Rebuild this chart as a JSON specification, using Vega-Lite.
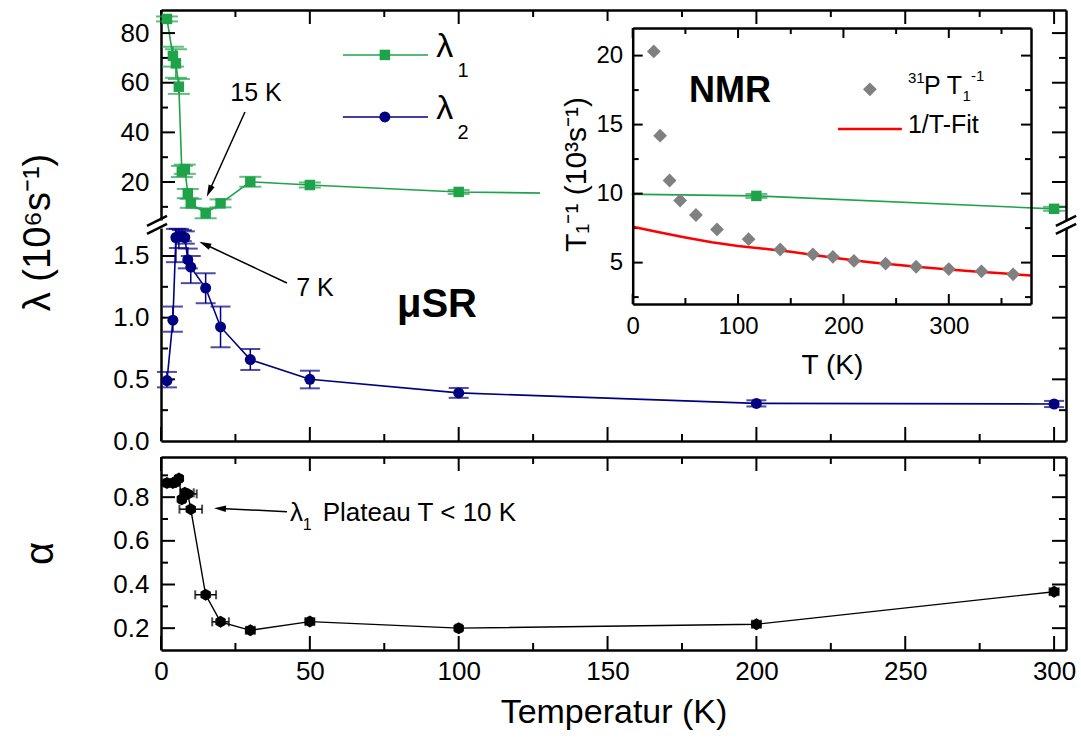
{
  "$schema": "https://vega.github.io/schema/vega-lite/v6.json",
  "width": 905,
  "height": 640,
  "autosize": {"type": "none"},
  "padding": {"left": 161, "top": 10, "right": 15, "bottom": 90},
  "background": "white",
  "config": {
    "view": {"stroke": null},
    "font": "Liberation Sans",
    "axis": {
      "grid": false,
      "ticks": false,
      "tickSize": 0,
      "domainColor": "black",
      "domainWidth": 2.5,
      "labelColor": "black",
      "labelFont": "Liberation Sans",
      "labelFontSize": 26,
      "labelFlush": false,
      "labelOverlap": false,
      "labelBound": false,
      "titleFont": "Liberation Sans",
      "titleFontWeight": "normal",
      "titleColor": "black"
    }
  },
  "datasets": {
    "lam1": [
      {"T": 2, "v": 85.7, "lo": 84.7, "hi": 86.7},
      {"T": 4, "v": 70.8, "lo": 66.5, "hi": 74.5},
      {"T": 5, "v": 67.8, "lo": 62, "hi": 73.5},
      {"T": 6, "v": 58.4, "lo": 55.5, "hi": 61.5},
      {"T": 7, "v": 24.2, "lo": 22, "hi": 26.5},
      {"T": 8, "v": 25.2, "lo": 23.3, "hi": 27},
      {"T": 9, "v": 15.4, "lo": 13.5, "hi": 17.2},
      {"T": 10, "v": 11.4, "lo": 9.6, "hi": 13.2},
      {"T": 15, "v": 7.4, "lo": 5.4, "hi": 9.4},
      {"T": 20, "v": 11.4, "lo": 9.8, "hi": 13},
      {"T": 30, "v": 20.1, "lo": 18.1, "hi": 22.1},
      {"T": 50, "v": 18.8, "lo": 17.8, "hi": 19.8},
      {"T": 100, "v": 16, "lo": 15.2, "hi": 16.8},
      {"T": 200, "v": 14.4, "lo": 13.6, "hi": 15.2},
      {"T": 300, "v": 9.2, "lo": 8.4, "hi": 10}
    ],
    "lam2": [
      {"T": 2, "v": 0.49, "lo": 0.435, "hi": 0.56},
      {"T": 4, "v": 0.98, "lo": 0.886, "hi": 1.09},
      {"T": 5, "v": 1.65, "lo": 1.45, "hi": 1.72},
      {"T": 6, "v": 1.66, "lo": 1.565, "hi": 1.72},
      {"T": 7, "v": 1.66, "lo": 1.62, "hi": 1.71},
      {"T": 8, "v": 1.65, "lo": 1.6, "hi": 1.7},
      {"T": 9, "v": 1.47, "lo": 1.4, "hi": 1.56},
      {"T": 10, "v": 1.41, "lo": 1.28, "hi": 1.5},
      {"T": 15, "v": 1.24, "lo": 1.117, "hi": 1.36},
      {"T": 20, "v": 0.925, "lo": 0.76, "hi": 1.09},
      {"T": 30, "v": 0.66, "lo": 0.576, "hi": 0.746},
      {"T": 50, "v": 0.5, "lo": 0.427, "hi": 0.57},
      {"T": 100, "v": 0.39, "lo": 0.35, "hi": 0.43},
      {"T": 200, "v": 0.305, "lo": 0.28, "hi": 0.33},
      {"T": 300, "v": 0.3, "lo": 0.275, "hi": 0.325}
    ],
    "alpha": [
      {"T": 2, "a": 0.865, "xlo": 1, "xhi": 3},
      {"T": 4, "a": 0.865, "xlo": 3, "xhi": 5},
      {"T": 5, "a": 0.87, "xlo": 4, "xhi": 6},
      {"T": 6, "a": 0.885, "xlo": 5, "xhi": 7},
      {"T": 7, "a": 0.79, "xlo": 6, "xhi": 8},
      {"T": 8, "a": 0.82, "xlo": 6.5, "xhi": 11},
      {"T": 9, "a": 0.815, "xlo": 7.5, "xhi": 12},
      {"T": 10, "a": 0.745, "xlo": 6.2, "xhi": 13.8},
      {"T": 15, "a": 0.353, "xlo": 11.5, "xhi": 18.5},
      {"T": 20, "a": 0.229, "xlo": 17.2, "xhi": 22.8},
      {"T": 30, "a": 0.19, "xlo": 28.5, "xhi": 31.5},
      {"T": 50, "a": 0.23, "xlo": 48.5, "xhi": 51.5},
      {"T": 100, "a": 0.2, "xlo": 99, "xhi": 101},
      {"T": 200, "a": 0.218, "xlo": 198.5, "xhi": 201.5},
      {"T": 300, "a": 0.367, "xlo": 298.5, "xhi": 301.5}
    ],
    "nmr": [
      {"T": 20, "r": 20.3}, {"T": 26, "r": 14.2}, {"T": 35, "r": 10.95}, {"T": 45, "r": 9.5},
      {"T": 60, "r": 8.45}, {"T": 80, "r": 7.4}, {"T": 110, "r": 6.7}, {"T": 140, "r": 5.95},
      {"T": 171, "r": 5.6}, {"T": 190, "r": 5.42}, {"T": 210, "r": 5.12}, {"T": 240, "r": 4.93},
      {"T": 269, "r": 4.7}, {"T": 300, "r": 4.53}, {"T": 331, "r": 4.37}, {"T": 361, "r": 4.15}
    ],
    "fit": [
      {"T": 0, "f": 7.6}, {"T": 25, "f": 7.2}, {"T": 50, "f": 6.82}, {"T": 75, "f": 6.48},
      {"T": 100, "f": 6.2}, {"T": 125, "f": 6.0}, {"T": 150, "f": 5.78}, {"T": 175, "f": 5.52},
      {"T": 200, "f": 5.26}, {"T": 225, "f": 5.03}, {"T": 250, "f": 4.84}, {"T": 275, "f": 4.66},
      {"T": 300, "f": 4.5}, {"T": 325, "f": 4.36}, {"T": 350, "f": 4.22}, {"T": 378, "f": 4.06}
    ],
    "tickU_v": [
      {"T": 0, "lo": 83.66, "hi": 89.3}, {"T": 50, "lo": 83.66, "hi": 89.3}, {"T": 100, "lo": 83.66, "hi": 89.3},
      {"T": 150, "lo": 83.66, "hi": 89.3}, {"T": 200, "lo": 83.66, "hi": 89.3}, {"T": 250, "lo": 83.66, "hi": 89.3},
      {"T": 300, "lo": 83.66, "hi": 89.3},
      {"T": 25, "lo": 86.48, "hi": 89.3}, {"T": 75, "lo": 86.48, "hi": 89.3}, {"T": 125, "lo": 86.48, "hi": 89.3},
      {"T": 175, "lo": 86.48, "hi": 89.3}, {"T": 225, "lo": 86.48, "hi": 89.3}, {"T": 275, "lo": 86.48, "hi": 89.3}
    ],
    "tickU_h": [
      {"v": 20, "xlo": 0, "xhi": 4.703}, {"v": 40, "xlo": 0, "xhi": 4.703}, {"v": 60, "xlo": 0, "xhi": 4.703}, {"v": 80, "xlo": 0, "xhi": 4.703},
      {"v": 10, "xlo": 0, "xhi": 2.351}, {"v": 30, "xlo": 0, "xhi": 2.351}, {"v": 50, "xlo": 0, "xhi": 2.351}, {"v": 70, "xlo": 0, "xhi": 2.351},
      {"v": 20, "xlo": 299.297, "xhi": 304}, {"v": 40, "xlo": 299.297, "xhi": 304}, {"v": 60, "xlo": 299.297, "xhi": 304}, {"v": 80, "xlo": 299.297, "xhi": 304},
      {"v": 10, "xlo": 301.649, "xhi": 304}, {"v": 30, "xlo": 301.649, "xhi": 304}, {"v": 50, "xlo": 301.649, "xhi": 304}, {"v": 70, "xlo": 301.649, "xhi": 304}
    ],
    "tickL_v": [
      {"T": 0, "lo": 0, "hi": 0.1135}, {"T": 50, "lo": 0, "hi": 0.1135}, {"T": 100, "lo": 0, "hi": 0.1135},
      {"T": 150, "lo": 0, "hi": 0.1135}, {"T": 200, "lo": 0, "hi": 0.1135}, {"T": 250, "lo": 0, "hi": 0.1135},
      {"T": 300, "lo": 0, "hi": 0.1135},
      {"T": 25, "lo": 0, "hi": 0.0568}, {"T": 75, "lo": 0, "hi": 0.0568}, {"T": 125, "lo": 0, "hi": 0.0568},
      {"T": 175, "lo": 0, "hi": 0.0568}, {"T": 225, "lo": 0, "hi": 0.0568}, {"T": 275, "lo": 0, "hi": 0.0568}
    ],
    "tickL_h": [
      {"v": 0.5, "xlo": 0, "xhi": 4.703}, {"v": 1, "xlo": 0, "xhi": 4.703}, {"v": 1.5, "xlo": 0, "xhi": 4.703},
      {"v": 0.25, "xlo": 0, "xhi": 2.351}, {"v": 0.75, "xlo": 0, "xhi": 2.351}, {"v": 1.25, "xlo": 0, "xhi": 2.351},
      {"v": 0.5, "xlo": 299.297, "xhi": 304}, {"v": 1, "xlo": 299.297, "xhi": 304}, {"v": 1.5, "xlo": 299.297, "xhi": 304},
      {"v": 0.25, "xlo": 301.649, "xhi": 304}, {"v": 0.75, "xlo": 301.649, "xhi": 304}, {"v": 1.25, "xlo": 301.649, "xhi": 304}
    ],
    "tickA_v": [
      {"T": 0, "lo": 0.9199, "hi": 0.984}, {"T": 50, "lo": 0.9199, "hi": 0.984}, {"T": 100, "lo": 0.9199, "hi": 0.984},
      {"T": 150, "lo": 0.9199, "hi": 0.984}, {"T": 200, "lo": 0.9199, "hi": 0.984}, {"T": 250, "lo": 0.9199, "hi": 0.984},
      {"T": 300, "lo": 0.9199, "hi": 0.984},
      {"T": 25, "lo": 0.9519, "hi": 0.984}, {"T": 75, "lo": 0.9519, "hi": 0.984}, {"T": 125, "lo": 0.9519, "hi": 0.984},
      {"T": 175, "lo": 0.9519, "hi": 0.984}, {"T": 225, "lo": 0.9519, "hi": 0.984}, {"T": 275, "lo": 0.9519, "hi": 0.984},
      {"T": 0, "lo": 0.1, "hi": 0.1641}, {"T": 50, "lo": 0.1, "hi": 0.1641}, {"T": 100, "lo": 0.1, "hi": 0.1641},
      {"T": 150, "lo": 0.1, "hi": 0.1641}, {"T": 200, "lo": 0.1, "hi": 0.1641}, {"T": 250, "lo": 0.1, "hi": 0.1641},
      {"T": 300, "lo": 0.1, "hi": 0.1641},
      {"T": 25, "lo": 0.1, "hi": 0.1321}, {"T": 75, "lo": 0.1, "hi": 0.1321}, {"T": 125, "lo": 0.1, "hi": 0.1321},
      {"T": 175, "lo": 0.1, "hi": 0.1321}, {"T": 225, "lo": 0.1, "hi": 0.1321}, {"T": 275, "lo": 0.1, "hi": 0.1321}
    ],
    "tickA_h": [
      {"a": 0.2, "xlo": 0, "xhi": 4.703}, {"a": 0.4, "xlo": 0, "xhi": 4.703}, {"a": 0.6, "xlo": 0, "xhi": 4.703}, {"a": 0.8, "xlo": 0, "xhi": 4.703},
      {"a": 0.3, "xlo": 0, "xhi": 2.351}, {"a": 0.5, "xlo": 0, "xhi": 2.351}, {"a": 0.7, "xlo": 0, "xhi": 2.351}, {"a": 0.9, "xlo": 0, "xhi": 2.351},
      {"a": 0.2, "xlo": 299.297, "xhi": 304}, {"a": 0.4, "xlo": 299.297, "xhi": 304}, {"a": 0.6, "xlo": 299.297, "xhi": 304}, {"a": 0.8, "xlo": 299.297, "xhi": 304},
      {"a": 0.3, "xlo": 301.649, "xhi": 304}, {"a": 0.5, "xlo": 301.649, "xhi": 304}, {"a": 0.7, "xlo": 301.649, "xhi": 304}, {"a": 0.9, "xlo": 301.649, "xhi": 304}
    ],
    "tickI_v": [
      {"T": 0, "lo": 2, "hi": 2.725}, {"T": 100, "lo": 2, "hi": 2.725}, {"T": 200, "lo": 2, "hi": 2.725}, {"T": 300, "lo": 2, "hi": 2.725},
      {"T": 50, "lo": 2, "hi": 2.435}, {"T": 150, "lo": 2, "hi": 2.435}, {"T": 250, "lo": 2, "hi": 2.435}, {"T": 350, "lo": 2, "hi": 2.435},
      {"T": 0, "lo": 21.275, "hi": 22}, {"T": 100, "lo": 21.275, "hi": 22}, {"T": 200, "lo": 21.275, "hi": 22}, {"T": 300, "lo": 21.275, "hi": 22},
      {"T": 50, "lo": 21.565, "hi": 22}, {"T": 150, "lo": 21.565, "hi": 22}, {"T": 250, "lo": 21.565, "hi": 22}, {"T": 350, "lo": 21.565, "hi": 22}
    ],
    "tickI_h": [
      {"r": 5, "xlo": 0, "xhi": 9.49}, {"r": 10, "xlo": 0, "xhi": 9.49}, {"r": 15, "xlo": 0, "xhi": 9.49}, {"r": 20, "xlo": 0, "xhi": 9.49},
      {"r": 2.5, "xlo": 0, "xhi": 5.69}, {"r": 7.5, "xlo": 0, "xhi": 5.69}, {"r": 12.5, "xlo": 0, "xhi": 5.69}, {"r": 17.5, "xlo": 0, "xhi": 5.69},
      {"r": 5, "xlo": 368.51, "xhi": 378}, {"r": 10, "xlo": 368.51, "xhi": 378}, {"r": 15, "xlo": 368.51, "xhi": 378}, {"r": 20, "xlo": 368.51, "xhi": 378},
      {"r": 2.5, "xlo": 372.31, "xhi": 378}, {"r": 7.5, "xlo": 372.31, "xhi": 378}, {"r": 12.5, "xlo": 372.31, "xhi": 378}, {"r": 17.5, "xlo": 372.31, "xhi": 378}
    ]
  },
  "layer": [
    {"data": {"name": "lam1"}, "mark": {"type": "point", "opacity": 0}, "encoding": {
      "x": {"field": "T", "type": "quantitative", "scale": {"domain": [0, 304], "range": [0, 905], "nice": false, "zero": false},
        "axis": {"orient": "top", "offset": 0, "labels": false, "title": null}},
      "y": {"field": "v", "type": "quantitative", "scale": {"domain": [4.7, 89.3], "range": [210, 0], "nice": false, "zero": false},
        "axis": {"orient": "left", "offset": 0, "values": [20,40,60,80], "labelPadding": 12,
          "title": "λ (10⁶s⁻¹)", "titleX": -123, "titleY": 222, "titleAngle": 270, "titleBaseline": "middle", "titleAlign": "center", "titleFontSize": 38}}}},
    {"data": {"name": "lam1"}, "mark": {"type": "point", "opacity": 0}, "encoding": {
      "x": {"field": "T", "type": "quantitative", "scale": {"domain": [0, 304], "range": [0, 905], "nice": false, "zero": false},
        "axis": {"orient": "bottom", "offset": -209, "labels": false, "title": null}},
      "y": {"field": "v", "type": "quantitative", "scale": {"domain": [4.7, 89.3], "range": [210, 0], "nice": false, "zero": false},
        "axis": {"orient": "right", "offset": 0, "labels": false, "title": null}}}},
    {"data": {"name": "lam1"}, "mark": {"type": "point", "opacity": 0}, "encoding": {
      "x": {"field": "T", "type": "quantitative", "scale": {"domain": [0, 304], "range": [0, 905], "nice": false, "zero": false},
        "axis": {"orient": "top", "offset": -447, "labels": false, "title": null}},
      "y": {"field": "v", "type": "quantitative", "scale": {"domain": [0, 1.727], "range": [431, 218], "nice": false, "zero": false},
        "axis": {"orient": "left", "offset": 0, "values": [0,0.5,1,1.5], "format": ".1f", "labelPadding": 12, "title": null}}}},
    {"data": {"name": "lam1"}, "mark": {"type": "point", "opacity": 0}, "encoding": {
      "x": {"field": "T", "type": "quantitative", "scale": {"domain": [0, 304], "range": [0, 905], "nice": false, "zero": false},
        "axis": {"orient": "bottom", "offset": 0, "values": [0,50,100,150,200,250,300], "labelPadding": 8,
          "title": "Temperatur (K)", "titleY": 62, "titleBaseline": "middle", "titleFontSize": 34}},
      "y": {"field": "v", "type": "quantitative", "scale": {"domain": [0, 1.727], "range": [431, 218], "nice": false, "zero": false},
        "axis": {"orient": "right", "offset": 0, "labels": false, "title": null}}}},
    {"data": {"name": "lam1"}, "mark": {"type": "point", "opacity": 0}, "encoding": {
      "x": {"field": "T", "type": "quantitative", "scale": {"domain": [0, 304], "range": [0, 905], "nice": false, "zero": false}, "axis": null},
      "y": {"field": "v", "type": "quantitative", "scale": {"domain": [0.1, 0.984], "range": [640, 447], "nice": false, "zero": false},
        "axis": {"orient": "left", "offset": 0, "values": [0.2,0.4,0.6,0.8], "format": ".1f", "labelPadding": 12,
          "title": "α", "titleX": -121, "titleY": 543, "titleAngle": 270, "titleBaseline": "middle", "titleAlign": "center", "titleFontSize": 40}}}},
    {"data": {"name": "lam1"}, "mark": {"type": "point", "opacity": 0}, "encoding": {
      "x": {"field": "T", "type": "quantitative", "scale": {"domain": [0, 304], "range": [0, 905], "nice": false, "zero": false}, "axis": null},
      "y": {"field": "v", "type": "quantitative", "scale": {"domain": [0.1, 0.984], "range": [640, 447], "nice": false, "zero": false},
        "axis": {"orient": "right", "offset": 0, "labels": false, "title": null}}}},
    {
      "data": {"name": "lam1"},
      "layer": [
        {
          "mark": {"type": "line", "color": "#1fa34a", "strokeWidth": 1.6},
          "encoding": {
            "x": {"field": "T", "type": "quantitative", "scale": {"domain": [0, 304], "range": [0, 905], "nice": false, "zero": false}, "axis": null},
            "y": {"field": "v", "type": "quantitative", "scale": {"domain": [4.7, 89.3], "range": [210, 0], "nice": false, "zero": false}, "axis": null}
          }
        },
        {
          "data": {"name": "tickU_v"},
          "mark": {"type": "rule", "color": "black", "strokeWidth": 2},
          "encoding": {"x": {"field": "T", "type": "quantitative", "axis": null}, "y": {"field": "lo", "type": "quantitative", "axis": null}, "y2": {"field": "hi"}}
        },
        {
          "data": {"name": "tickU_h"},
          "mark": {"type": "rule", "color": "black", "strokeWidth": 2},
          "encoding": {"x": {"field": "xlo", "type": "quantitative", "axis": null}, "x2": {"field": "xhi"}, "y": {"field": "v", "type": "quantitative", "axis": null}}
        },
        {
          "mark": {"type": "rule", "color": "#1fa34a", "strokeWidth": 1.5},
          "encoding": {"x": {"field": "T", "type": "quantitative", "axis": null}, "y": {"field": "lo", "type": "quantitative", "axis": null}, "y2": {"field": "hi"}}
        },
        {
          "mark": {"type": "tick", "orient": "horizontal", "color": "#1fa34a", "size": 22, "thickness": 2},
          "encoding": {"x": {"field": "T", "type": "quantitative", "axis": null}, "y": {"field": "lo", "type": "quantitative", "axis": null}}
        },
        {
          "mark": {"type": "tick", "orient": "horizontal", "color": "#1fa34a", "size": 22, "thickness": 2},
          "encoding": {"x": {"field": "T", "type": "quantitative", "axis": null}, "y": {"field": "hi", "type": "quantitative", "axis": null}}
        },
        {
          "mark": {"type": "point", "shape": "square", "filled": true, "size": 110, "color": "#1fa34a", "opacity": 1},
          "encoding": {"x": {"field": "T", "type": "quantitative", "axis": null}, "y": {"field": "v", "type": "quantitative", "axis": null}}
        },
        {
          "data": {"values": [{}]},
          "mark": {"type": "rule", "color": "#1fa34a", "strokeWidth": 1.6},
          "encoding": {"x": {"datum": 61.1, "type": "quantitative", "axis": null}, "x2": {"datum": 89.7}, "y": {"datum": 71.2, "type": "quantitative", "axis": null}}
        },
        {
          "data": {"values": [{}]},
          "mark": {"type": "point", "shape": "square", "filled": true, "size": 110, "color": "#1fa34a", "opacity": 1},
          "encoding": {"x": {"datum": 75.2, "type": "quantitative", "axis": null}, "y": {"datum": 71.2, "type": "quantitative", "axis": null}}
        },
        {
          "data": {"values": [{}]},
          "mark": {"type": "rule", "color": "#000080", "strokeWidth": 1.6},
          "encoding": {"x": {"datum": 61.1, "type": "quantitative", "axis": null}, "x2": {"datum": 89.7}, "y": {"datum": 46.2, "type": "quantitative", "axis": null}}
        },
        {
          "data": {"values": [{}]},
          "mark": {"type": "point", "shape": "circle", "filled": true, "size": 121, "color": "#000080", "opacity": 1},
          "encoding": {"x": {"datum": 75.2, "type": "quantitative", "axis": null}, "y": {"datum": 46.2, "type": "quantitative", "axis": null}}
        },
        {
          "data": {"values": [{}]},
          "mark": {"type": "text", "text": "λ", "font": "Liberation Sans", "fontSize": 34, "align": "left", "baseline": "middle", "color": "black"},
          "encoding": {"x": {"datum": 92.5, "type": "quantitative", "axis": null}, "y": {"datum": 74.5, "type": "quantitative", "axis": null}}
        },
        {
          "data": {"values": [{}]},
          "mark": {"type": "text", "text": "1", "font": "Liberation Sans", "fontSize": 20, "align": "left", "baseline": "middle", "color": "black"},
          "encoding": {"x": {"datum": 99.6, "type": "quantitative", "axis": null}, "y": {"datum": 64.6, "type": "quantitative", "axis": null}}
        },
        {
          "data": {"values": [{}]},
          "mark": {"type": "text", "text": "λ", "font": "Liberation Sans", "fontSize": 34, "align": "left", "baseline": "middle", "color": "black"},
          "encoding": {"x": {"datum": 92.5, "type": "quantitative", "axis": null}, "y": {"datum": 49.5, "type": "quantitative", "axis": null}}
        },
        {
          "data": {"values": [{}]},
          "mark": {"type": "text", "text": "2", "font": "Liberation Sans", "fontSize": 20, "align": "left", "baseline": "middle", "color": "black"},
          "encoding": {"x": {"datum": 99.6, "type": "quantitative", "axis": null}, "y": {"datum": 39.6, "type": "quantitative", "axis": null}}
        },
        {
          "data": {"values": [{}]},
          "mark": {"type": "text", "text": "15 K", "font": "Liberation Sans", "fontSize": 25, "align": "center", "baseline": "middle", "color": "black"},
          "encoding": {"x": {"datum": 31.9, "type": "quantitative", "axis": null}, "y": {"datum": 55.7, "type": "quantitative", "axis": null}}
        },
        {
          "data": {"values": [{}]},
          "mark": {"type": "rule", "color": "black", "strokeWidth": 1.5},
          "encoding": {"x": {"datum": 28.2, "type": "quantitative", "axis": null}, "x2": {"datum": 16.2}, "y": {"datum": 48.2, "type": "quantitative", "axis": null}, "y2": {"datum": 16.3}}
        },
        {
          "data": {"values": [{}]},
          "mark": {"type": "point", "shape": "M0,-1L0.55,1L-0.55,1Z", "filled": true, "size": 144, "color": "black", "opacity": 1, "angle": 204},
          "encoding": {"x": {"datum": 16.2, "type": "quantitative", "axis": null}, "y": {"datum": 16.3, "type": "quantitative", "axis": null}}
        }
      ]
    },
    {
      "data": {"name": "lam2"},
      "layer": [
        {
          "mark": {"type": "line", "color": "#000080", "strokeWidth": 1.6},
          "encoding": {
            "x": {"field": "T", "type": "quantitative", "scale": {"domain": [0, 304], "range": [0, 905], "nice": false, "zero": false}, "axis": null},
            "y": {"field": "v", "type": "quantitative", "scale": {"domain": [0, 1.727], "range": [431, 218], "nice": false, "zero": false}, "axis": null}
          }
        },
        {
          "data": {"name": "tickL_v"},
          "mark": {"type": "rule", "color": "black", "strokeWidth": 2},
          "encoding": {"x": {"field": "T", "type": "quantitative", "axis": null}, "y": {"field": "lo", "type": "quantitative", "axis": null}, "y2": {"field": "hi"}}
        },
        {
          "data": {"name": "tickL_h"},
          "mark": {"type": "rule", "color": "black", "strokeWidth": 2},
          "encoding": {"x": {"field": "xlo", "type": "quantitative", "axis": null}, "x2": {"field": "xhi"}, "y": {"field": "v", "type": "quantitative", "axis": null}}
        },
        {
          "mark": {"type": "rule", "color": "#000080", "strokeWidth": 1.5},
          "encoding": {"x": {"field": "T", "type": "quantitative", "axis": null}, "y": {"field": "lo", "type": "quantitative", "axis": null}, "y2": {"field": "hi"}}
        },
        {
          "mark": {"type": "tick", "orient": "horizontal", "color": "#000080", "size": 20, "thickness": 2},
          "encoding": {"x": {"field": "T", "type": "quantitative", "axis": null}, "y": {"field": "lo", "type": "quantitative", "axis": null}}
        },
        {
          "mark": {"type": "tick", "orient": "horizontal", "color": "#000080", "size": 20, "thickness": 2},
          "encoding": {"x": {"field": "T", "type": "quantitative", "axis": null}, "y": {"field": "hi", "type": "quantitative", "axis": null}}
        },
        {
          "mark": {"type": "point", "shape": "circle", "filled": true, "size": 121, "color": "#000080", "opacity": 1},
          "encoding": {"x": {"field": "T", "type": "quantitative", "axis": null}, "y": {"field": "v", "type": "quantitative", "axis": null}}
        },
        {
          "data": {"values": [{}]},
          "mark": {"type": "text", "text": "7 K", "font": "Liberation Sans", "fontSize": 25, "align": "center", "baseline": "middle", "color": "black"},
          "encoding": {"x": {"datum": 51.7, "type": "quantitative", "axis": null}, "y": {"datum": 1.237, "type": "quantitative", "axis": null}}
        },
        {
          "data": {"values": [{}]},
          "mark": {"type": "rule", "color": "black", "strokeWidth": 1.5},
          "encoding": {"x": {"datum": 42.3, "type": "quantitative", "axis": null}, "x2": {"datum": 14.7}, "y": {"datum": 1.281, "type": "quantitative", "axis": null}, "y2": {"datum": 1.595}}
        },
        {
          "data": {"values": [{}]},
          "mark": {"type": "point", "shape": "M0,-1L0.55,1L-0.55,1Z", "filled": true, "size": 144, "color": "black", "opacity": 1, "angle": 295},
          "encoding": {"x": {"datum": 14.7, "type": "quantitative", "axis": null}, "y": {"datum": 1.595, "type": "quantitative", "axis": null}}
        },
        {
          "data": {"values": [{}]},
          "mark": {"type": "text", "text": "μSR", "font": "Liberation Sans", "fontSize": 40, "fontWeight": "bold", "align": "center", "baseline": "middle", "color": "black"},
          "encoding": {"x": {"datum": 92.7, "type": "quantitative", "axis": null}, "y": {"datum": 1.103, "type": "quantitative", "axis": null}}
        },
        {
          "data": {"values": [{}]},
          "mark": {"type": "rule", "color": "black", "strokeWidth": 2.5},
          "encoding": {"x": {"datum": -4.7, "type": "quantitative", "axis": null}, "x2": {"datum": 2.02}, "y": {"datum": 1.744, "type": "quantitative", "axis": null}, "y2": {"datum": 1.825}}
        },
        {
          "data": {"values": [{}]},
          "mark": {"type": "rule", "color": "black", "strokeWidth": 2.5},
          "encoding": {"x": {"datum": -4.7, "type": "quantitative", "axis": null}, "x2": {"datum": 2.02}, "y": {"datum": 1.679, "type": "quantitative", "axis": null}, "y2": {"datum": 1.76}}
        },
        {
          "data": {"values": [{}]},
          "mark": {"type": "rule", "color": "black", "strokeWidth": 2.5},
          "encoding": {"x": {"datum": 300.6, "type": "quantitative", "axis": null}, "x2": {"datum": 307.4}, "y": {"datum": 1.744, "type": "quantitative", "axis": null}, "y2": {"datum": 1.825}}
        },
        {
          "data": {"values": [{}]},
          "mark": {"type": "rule", "color": "black", "strokeWidth": 2.5},
          "encoding": {"x": {"datum": 300.6, "type": "quantitative", "axis": null}, "x2": {"datum": 307.4}, "y": {"datum": 1.679, "type": "quantitative", "axis": null}, "y2": {"datum": 1.76}}
        }
      ]
    },
    {
      "data": {"name": "alpha"},
      "layer": [
        {
          "mark": {"type": "line", "color": "black", "strokeWidth": 1.4},
          "encoding": {
            "x": {"field": "T", "type": "quantitative", "scale": {"domain": [0, 304], "range": [0, 905], "nice": false, "zero": false}, "axis": null},
            "y": {"field": "a", "type": "quantitative", "scale": {"domain": [0.1, 0.984], "range": [640, 447], "nice": false, "zero": false}, "axis": null}
          }
        },
        {
          "data": {"name": "tickA_v"},
          "mark": {"type": "rule", "color": "black", "strokeWidth": 2},
          "encoding": {"x": {"field": "T", "type": "quantitative", "axis": null}, "y": {"field": "lo", "type": "quantitative", "axis": null}, "y2": {"field": "hi"}}
        },
        {
          "data": {"name": "tickA_h"},
          "mark": {"type": "rule", "color": "black", "strokeWidth": 2},
          "encoding": {"x": {"field": "xlo", "type": "quantitative", "axis": null}, "x2": {"field": "xhi"}, "y": {"field": "a", "type": "quantitative", "axis": null}}
        },
        {
          "mark": {"type": "rule", "color": "black", "strokeWidth": 1.5},
          "encoding": {"x": {"field": "xlo", "type": "quantitative", "axis": null}, "x2": {"field": "xhi"}, "y": {"field": "a", "type": "quantitative", "axis": null}}
        },
        {
          "mark": {"type": "tick", "orient": "vertical", "color": "black", "size": 9, "thickness": 2},
          "encoding": {"x": {"field": "xlo", "type": "quantitative", "axis": null}, "y": {"field": "a", "type": "quantitative", "axis": null}}
        },
        {
          "mark": {"type": "tick", "orient": "vertical", "color": "black", "size": 9, "thickness": 2},
          "encoding": {"x": {"field": "xhi", "type": "quantitative", "axis": null}, "y": {"field": "a", "type": "quantitative", "axis": null}}
        },
        {
          "mark": {"type": "point", "shape": "M0,-1L0.866,-0.5L0.866,0.5L0,1L-0.866,0.5L-0.866,-0.5Z", "filled": true, "size": 144, "color": "black", "opacity": 1},
          "encoding": {"x": {"field": "T", "type": "quantitative", "axis": null}, "y": {"field": "a", "type": "quantitative", "axis": null}}
        },
        {
          "data": {"values": [{}]},
          "mark": {"type": "rule", "color": "black", "strokeWidth": 1.5},
          "encoding": {"x": {"datum": 42.3, "type": "quantitative", "axis": null}, "x2": {"datum": 19.8}, "y": {"datum": 0.7336, "type": "quantitative", "axis": null}, "y2": {"datum": 0.748}}
        },
        {
          "data": {"values": [{}]},
          "mark": {"type": "point", "shape": "M0,-1L0.55,1L-0.55,1Z", "filled": true, "size": 144, "color": "black", "opacity": 1, "angle": 272.5},
          "encoding": {"x": {"datum": 19.8, "type": "quantitative", "axis": null}, "y": {"datum": 0.748, "type": "quantitative", "axis": null}}
        },
        {
          "data": {"values": [{}]},
          "mark": {"type": "text", "text": "λ", "font": "Liberation Sans", "fontSize": 26, "align": "left", "baseline": "middle", "color": "black"},
          "encoding": {"x": {"datum": 43.3, "type": "quantitative", "axis": null}, "y": {"datum": 0.727, "type": "quantitative", "axis": null}}
        },
        {
          "data": {"values": [{}]},
          "mark": {"type": "text", "text": "1", "font": "Liberation Sans", "fontSize": 16, "align": "left", "baseline": "middle", "color": "black"},
          "encoding": {"x": {"datum": 47.6, "type": "quantitative", "axis": null}, "y": {"datum": 0.672, "type": "quantitative", "axis": null}}
        },
        {
          "data": {"values": [{}]},
          "mark": {"type": "text", "text": "Plateau T < 10 K", "font": "Liberation Sans", "fontSize": 26, "align": "left", "baseline": "middle", "color": "black"},
          "encoding": {"x": {"datum": 54.3, "type": "quantitative", "axis": null}, "y": {"datum": 0.727, "type": "quantitative", "axis": null}}
        }
      ]
    },
    {
      "data": {"name": "fit"},
      "layer": [
        {
          "data": {"values": [{}]},
          "mark": {"type": "rect", "color": "white", "opacity": 1},
          "encoding": {
            "x": {"datum": -88, "type": "quantitative", "scale": {"domain": [0, 378], "range": [471.7, 870], "nice": false, "zero": false}, "axis": null},
            "x2": {"datum": -1},
            "y": {"datum": 1.5, "type": "quantitative", "scale": {"domain": [2, 22], "range": [294, 18], "nice": false, "zero": false}, "axis": null},
            "y2": {"datum": 22.5}
          }
        },
        {
          "data": {"name": "tickI_v"},
          "mark": {"type": "rule", "color": "black", "strokeWidth": 2},
          "encoding": {"x": {"field": "T", "type": "quantitative", "axis": null}, "y": {"field": "lo", "type": "quantitative", "axis": null}, "y2": {"field": "hi"}}
        },
        {
          "data": {"name": "tickI_h"},
          "mark": {"type": "rule", "color": "black", "strokeWidth": 2},
          "encoding": {"x": {"field": "xlo", "type": "quantitative", "axis": null}, "x2": {"field": "xhi"}, "y": {"field": "r", "type": "quantitative", "axis": null}}
        },
        {
          "mark": {"type": "line", "color": "#ff0000", "strokeWidth": 2.5},
          "encoding": {"x": {"field": "T", "type": "quantitative", "axis": null}, "y": {"field": "f", "type": "quantitative", "axis": null}}
        },
        {
          "data": {"name": "nmr"},
          "mark": {"type": "point", "shape": "diamond", "filled": true, "size": 190, "color": "#808080", "opacity": 1},
          "encoding": {"x": {"field": "T", "type": "quantitative", "axis": null}, "y": {"field": "r", "type": "quantitative", "axis": null}}
        },
        {
          "data": {"values": [{}]},
          "mark": {"type": "text", "text": "NMR", "font": "Liberation Sans", "fontSize": 36, "fontWeight": "bold", "align": "center", "baseline": "middle", "color": "black"},
          "encoding": {"x": {"datum": 92.3, "type": "quantitative", "axis": null}, "y": {"datum": 17.43, "type": "quantitative", "axis": null}}
        },
        {
          "data": {"values": [{}]},
          "mark": {"type": "point", "shape": "diamond", "filled": true, "size": 190, "color": "#808080", "opacity": 1},
          "encoding": {"x": {"datum": 225.1, "type": "quantitative", "axis": null}, "y": {"datum": 17.56, "type": "quantitative", "axis": null}}
        },
        {
          "data": {"values": [{}]},
          "mark": {"type": "text", "text": "31", "font": "Liberation Sans", "fontSize": 15, "align": "left", "baseline": "middle", "color": "black"},
          "encoding": {"x": {"datum": 261.2, "type": "quantitative", "axis": null}, "y": {"datum": 18.38, "type": "quantitative", "axis": null}}
        },
        {
          "data": {"values": [{}]},
          "mark": {"type": "text", "text": "P T", "font": "Liberation Sans", "fontSize": 25, "align": "left", "baseline": "middle", "color": "black"},
          "encoding": {"x": {"datum": 276.4, "type": "quantitative", "axis": null}, "y": {"datum": 17.8, "type": "quantitative", "axis": null}}
        },
        {
          "data": {"values": [{}]},
          "mark": {"type": "text", "text": "1", "font": "Liberation Sans", "fontSize": 15, "align": "left", "baseline": "middle", "color": "black"},
          "encoding": {"x": {"datum": 313, "type": "quantitative", "axis": null}, "y": {"datum": 17.05, "type": "quantitative", "axis": null}}
        },
        {
          "data": {"values": [{}]},
          "mark": {"type": "text", "text": "-1", "font": "Liberation Sans", "fontSize": 15, "align": "left", "baseline": "middle", "color": "black"},
          "encoding": {"x": {"datum": 321, "type": "quantitative", "axis": null}, "y": {"datum": 18.5, "type": "quantitative", "axis": null}}
        },
        {
          "data": {"values": [{}]},
          "mark": {"type": "rule", "color": "#ff0000", "strokeWidth": 2.5},
          "encoding": {"x": {"datum": 194.8, "type": "quantitative", "axis": null}, "x2": {"datum": 255.5}, "y": {"datum": 14.68, "type": "quantitative", "axis": null}}
        },
        {
          "data": {"values": [{}]},
          "mark": {"type": "text", "text": "1/T-Fit", "font": "Liberation Sans", "fontSize": 25, "align": "left", "baseline": "middle", "color": "black"},
          "encoding": {"x": {"datum": 261.2, "type": "quantitative", "axis": null}, "y": {"datum": 14.97, "type": "quantitative", "axis": null}}
        }
      ]
    },
    {"data": {"name": "nmr"}, "mark": {"type": "point", "opacity": 0}, "encoding": {
      "x": {"field": "T", "type": "quantitative", "scale": {"domain": [0, 378], "range": [471.7, 870], "nice": false, "zero": false},
        "axis": {"orient": "bottom", "offset": -346, "values": [0,100,200,300], "labelPadding": 10, "labelFontSize": 24,
          "title": "T (K)", "titleY": 61, "titleBaseline": "middle", "titleFontSize": 28, "zindex": 1}},
      "y": {"field": "r", "type": "quantitative", "scale": {"domain": [2, 22], "range": [294, 18], "nice": false, "zero": false},
        "axis": {"orient": "left", "offset": -471.7, "values": [5,10,15,20], "labelPadding": 10, "labelFontSize": 24,
          "title": "T₁⁻¹ (10³s⁻¹)", "titleX": -56, "titleY": 164, "titleAngle": 270, "titleBaseline": "middle", "titleAlign": "center", "titleFontSize": 30, "zindex": 1}}}},
    {"data": {"name": "nmr"}, "mark": {"type": "point", "opacity": 0}, "encoding": {
      "x": {"field": "T", "type": "quantitative", "scale": {"domain": [0, 378], "range": [471.7, 870], "nice": false, "zero": false},
        "axis": {"orient": "top", "offset": -18, "labels": false, "title": null, "zindex": 1}},
      "y": {"field": "r", "type": "quantitative", "scale": {"domain": [2, 22], "range": [294, 18], "nice": false, "zero": false},
        "axis": {"orient": "right", "offset": -35, "labels": false, "title": null, "zindex": 1}}}}
  ],
  "resolve": {"scale": {"x": "independent", "y": "independent"}, "axis": {"x": "independent", "y": "independent"}}
}
